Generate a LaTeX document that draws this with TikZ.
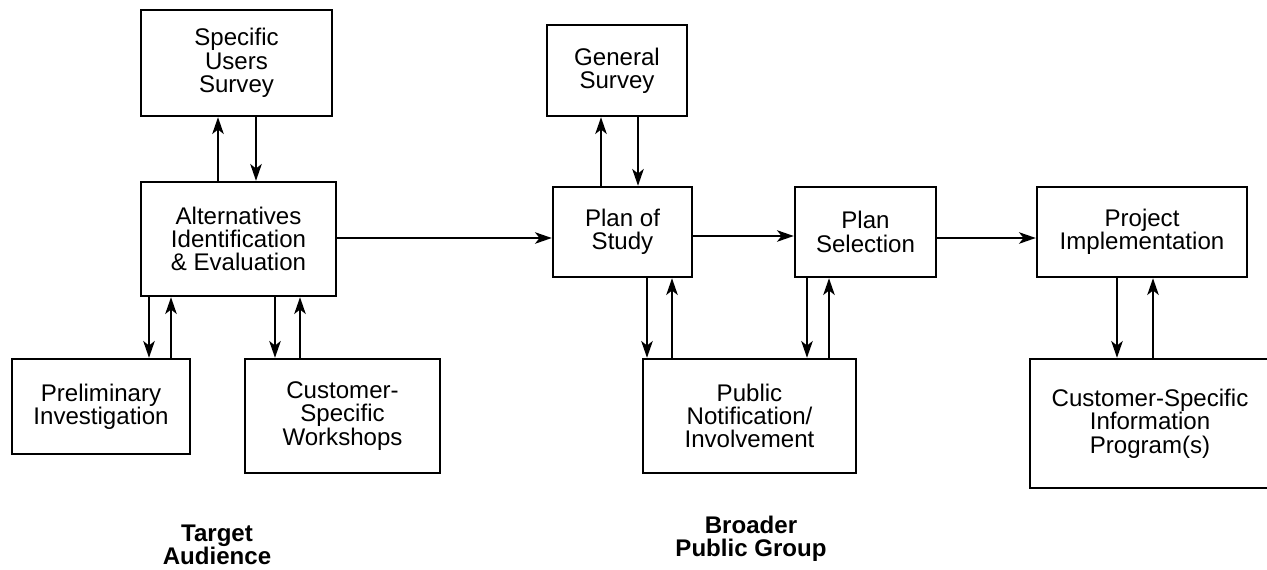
\documentclass[tikz,border=0pt]{standalone}
\usepackage{fontspec}
\setmainfont{Liberation Sans}
\usetikzlibrary{arrows.meta,positioning,calc}

\begin{document}
\begin{tikzpicture}[
  x=0.02cm,y=-0.02cm,
  every node/.style={font=\fontsize{13.7}{13.3}\selectfont},
  box/.style={draw,line width=1.4pt,align=center,inner sep=0pt},
  arr/.style={-{Stealth[length=9.5pt,width=6.5pt,inset=2.5pt]},line width=1.3pt},
  tag/.style={font=\fontsize{13.7}{13.3}\selectfont\bfseries,align=center}
]
\clip (0,0) rectangle (1267,569);
% target audience side
\node[box,minimum width=3.82cm,minimum height=2.12cm] (sus) at (236.5,63) {Specific\\Users\\Survey};
\node[box,minimum width=3.90cm,minimum height=2.28cm] (alt) at (238.5,239) {Alternatives\\Identification\\\& Evaluation};
\node[box,minimum width=3.56cm,minimum height=1.90cm] (prel) at (101,406.5) {Preliminary\\Investigation};
\node[box,minimum width=3.90cm,minimum height=2.28cm] (work) at (342.5,416) {Customer-\\Specific\\Workshops};
% broader public side
\node[box,minimum width=2.80cm,minimum height=1.82cm] (gen) at (617,70.5) {General\\Survey};
\node[box,minimum width=2.78cm,minimum height=1.80cm] (pos) at (622.5,232) {Plan of\\Study};
\node[box,minimum width=2.82cm,minimum height=1.80cm] (sel) at (865.5,232) {Plan\\Selection};
\node[box,minimum width=4.20cm,minimum height=1.80cm] (impl) at (1142,232) {Project\\Implementation};
\node[box,minimum width=4.26cm,minimum height=2.28cm] (pub) at (749.5,416) {Public\\Notification/\\Involvement};
\node[box,minimum width=4.80cm,minimum height=2.58cm] (info) at (1150,423.5) {Customer-Specific\\Information\\Program(s)};
% group labels
\node[tag] (ta) at (217,545) {Target\\Audience};
\node[tag] (bpg) at (751,539) {Broader\\Public Group};
% connectors
\draw[arr] (alt.north -| 218,0) -- (sus.south -| 218,0);
\draw[arr] (sus.south -| 256,0) -- (alt.north -| 256,0);
\draw[arr] (alt.south -| 149,0) -- (prel.north -| 149,0);
\draw[arr] (prel.north -| 171,0) -- (alt.south -| 171,0);
\draw[arr] (alt.south -| 275,0) -- (work.north -| 275,0);
\draw[arr] (work.north -| 300,0) -- (alt.south -| 300,0);
\draw[arr] (alt.east |- 0,238) -- (pos.west |- 0,238);
\draw[arr] (pos.north -| 601,0) -- (gen.south -| 601,0);
\draw[arr] (gen.south -| 638,0) -- (pos.north -| 638,0);
\draw[arr] (pos.east |- 0,236) -- (sel.west |- 0,236);
\draw[arr] (pos.south -| 647,0) -- (pub.north -| 647,0);
\draw[arr] (pub.north -| 672,0) -- (pos.south -| 672,0);
\draw[arr] (sel.south -| 807,0) -- (pub.north -| 807,0);
\draw[arr] (pub.north -| 829,0) -- (sel.south -| 829,0);
\draw[arr] (sel.east |- 0,238) -- (impl.west |- 0,238);
\draw[arr] (impl.south -| 1117,0) -- (info.north -| 1117,0);
\draw[arr] (info.north -| 1153,0) -- (impl.south -| 1153,0);
\end{tikzpicture}
\end{document}
